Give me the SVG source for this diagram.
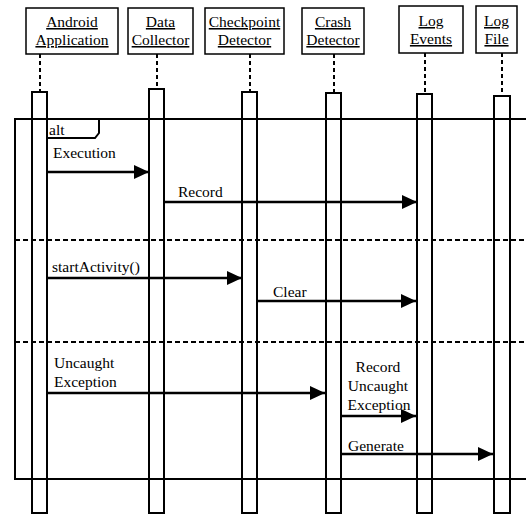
<svg xmlns="http://www.w3.org/2000/svg" width="526" height="515" viewBox="0 0 526 515">
<style>
text{font-family:"Liberation Serif","Times New Roman",serif;font-size:15.5px;fill:#000}
.hd{text-anchor:middle;text-decoration:underline}
.box{fill:#fff;stroke:#000;stroke-width:1.5}
.life{stroke:#000;stroke-width:2;stroke-dasharray:4,3}
.act{fill:none;stroke:#000;stroke-width:2}
.msg{stroke:#000;stroke-width:2.5;marker-end:url(#ah)}
.sep{stroke:#000;stroke-width:2;stroke-dasharray:5,3}
.frame{fill:none;stroke:#000;stroke-width:2}
</style>
<defs>
<marker id="ah" markerUnits="userSpaceOnUse" markerWidth="15" markerHeight="14" refX="15" refY="7" orient="auto">
<path d="M0,0 L15,7 L0,14 z" fill="#000"/>
</marker>
</defs>
<rect width="526" height="515" fill="#fff"/>
<g id="altFrame">
<rect class="frame" x="15" y="119" width="520" height="360"/>
<path class="frame" d="M47,119 L99,119 L99,133 L95,138 L47,138"/>
<text x="49" y="135">alt</text>
<line class="sep" x1="15" y1="240" x2="526" y2="240"/>
<line class="sep" x1="15" y1="342" x2="526" y2="342"/>
</g>
<g id="android">
<rect class="box" x="26" y="8" width="92" height="46"/>
<text class="hd" x="72" y="27">Android</text>
<text class="hd" x="72" y="45">Application</text>
<line class="life" x1="40" y1="54" x2="40" y2="92"/>
<rect class="act" x="32" y="92" width="15" height="421"/>
</g>
<g id="dataCollector">
<rect class="box" x="128" y="8" width="65" height="46"/>
<text class="hd" x="160.5" y="27">Data</text>
<text class="hd" x="160.5" y="45">Collector</text>
<line class="life" x1="157" y1="54" x2="157" y2="89"/>
<rect class="act" x="149" y="89" width="15" height="424"/>
</g>
<g id="checkpointDetector">
<rect class="box" x="205" y="8" width="79" height="46"/>
<text class="hd" x="244.5" y="27">Checkpoint</text>
<text class="hd" x="244.5" y="45">Detector</text>
<line class="life" x1="250" y1="54" x2="250" y2="92"/>
<rect class="act" x="242" y="92" width="15" height="421"/>
</g>
<g id="crashDetector">
<rect class="box" x="302" y="8" width="62" height="46"/>
<text class="hd" x="333" y="27">Crash</text>
<text class="hd" x="333" y="45">Detector</text>
<line class="life" x1="334" y1="54" x2="334" y2="93"/>
<rect class="act" x="326" y="93" width="15" height="420"/>
</g>
<g id="logEvents">
<rect class="box" x="399" y="6" width="64" height="47"/>
<text class="hd" x="431" y="26">Log</text>
<text class="hd" x="431" y="44">Events</text>
<line class="life" x1="425" y1="53" x2="425" y2="94"/>
<rect class="act" x="417" y="94" width="15" height="419"/>
</g>
<g id="logFile">
<rect class="box" x="476" y="6" width="41" height="47"/>
<text class="hd" x="496.5" y="26">Log</text>
<text class="hd" x="496.5" y="44">File</text>
<line class="life" x1="502" y1="53" x2="502" y2="96"/>
<rect class="act" x="494" y="96" width="16" height="417"/>
</g>
<g id="connectors">
<line class="msg" x1="47" y1="172" x2="149" y2="172"/>
<text x="53" y="158">Execution</text>
<line class="msg" x1="164" y1="202" x2="417" y2="202"/>
<text x="178" y="197">Record</text>
<line class="msg" x1="47" y1="278" x2="242" y2="278"/>
<text x="52" y="272">startActivity()</text>
<line class="msg" x1="257" y1="301" x2="416" y2="301"/>
<text x="273" y="297">Clear</text>
<line class="msg" x1="47" y1="393" x2="325" y2="393"/>
<text x="54" y="368">Uncaught</text>
<text x="54" y="387">Exception</text>
<line class="msg" x1="341" y1="416" x2="416" y2="416"/>
<text x="378" y="372" text-anchor="middle">Record</text>
<text x="378" y="391" text-anchor="middle">Uncaught</text>
<text x="379" y="410" text-anchor="middle">Exception</text>
<line class="msg" x1="341" y1="454" x2="493" y2="454"/>
<text x="348" y="451">Generate</text>
</g>
</svg>
